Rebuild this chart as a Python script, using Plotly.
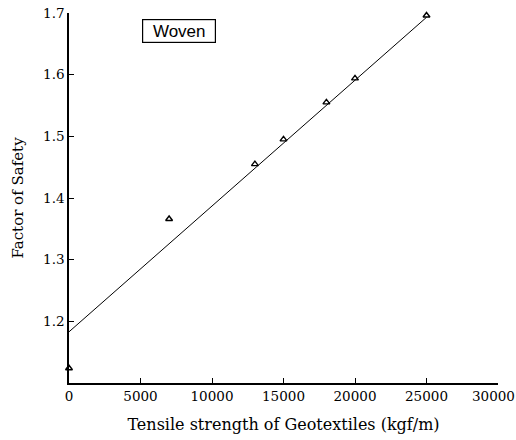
import plotly.graph_objects as go

strength = [0, 7000, 13000, 15000, 18000, 20000, 25000]
factor = [1.124, 1.366, 1.455, 1.495, 1.555, 1.594, 1.696]
fit_x = [0, 25000]
fit_y = [1.183, 1.693]
x_ticks = [0, 5000, 10000, 15000, 20000, 25000, 30000]
x_tick_labels = ["0", "5000", "10000", "15000", "20000", "25000", "30000"]
y_ticks = [1.2, 1.3, 1.4, 1.5, 1.6, 1.7]

fig = go.Figure()
fig.add_trace(go.Scatter(x=fit_x, y=fit_y, mode="lines",
                         line=dict(color="black", width=1), showlegend=False))
fig.add_trace(go.Scatter(x=strength, y=factor, mode="markers",
                         marker=dict(symbol="triangle-up-open", size=6,
                                     color="black", line=dict(width=1.4, color="black")),
                         showlegend=False, cliponaxis=False))

tickfont = dict(family="DejaVu Serif", size=13.5, color="black")
# last x tick label is drawn as an annotation nudged left so it stays inside the page
shown_labels = x_tick_labels[:-1] + [""]
annotations = [
    dict(x=7700, y=1.671, xref="x", yref="y", text="Woven",
         showarrow=False, font=dict(family="Liberation Sans", size=17, color="black"),
         bordercolor="black", borderwidth=1.2, borderpad=0, bgcolor="white",
         width=72, height=22),
    dict(x=x_ticks[-1], y=0, xref="x", yref="paper", text=x_tick_labels[-1],
         showarrow=False, font=tickfont, xanchor="center", yanchor="middle",
         xshift=-5, yshift=-13),
]
fig.update_layout(
    width=516, height=440,
    margin=dict(l=69, r=18, t=13, b=57, autoexpand=False),
    paper_bgcolor="white", plot_bgcolor="white",
    font=dict(family="DejaVu Serif", color="black", size=15),
    xaxis=dict(range=[0, 30000], tickvals=x_ticks, ticktext=shown_labels,
               showgrid=False, zeroline=False, showline=True, linecolor="black",
               linewidth=1.5, ticks="inside", ticklen=5, tickcolor="black",
               tickfont=tickfont, automargin=False,
               title=dict(text="Tensile strength of Geotextiles (kgf/m)",
                          font=dict(family="DejaVu Serif", size=16), standoff=16)),
    yaxis=dict(range=[1.1, 1.7], tickvals=y_ticks, ticktext=[f"{v:.1f}" for v in y_ticks],
               showgrid=False, zeroline=False, showline=True, linecolor="black",
               linewidth=1.5, ticks="inside", ticklen=5, tickcolor="black",
               tickfont=tickfont, automargin=False,
               title=dict(text="Factor of Safety", font=dict(family="DejaVu Serif", size=15),
                          standoff=16)),
    annotations=annotations,
)
fig.write_html("out.html")
